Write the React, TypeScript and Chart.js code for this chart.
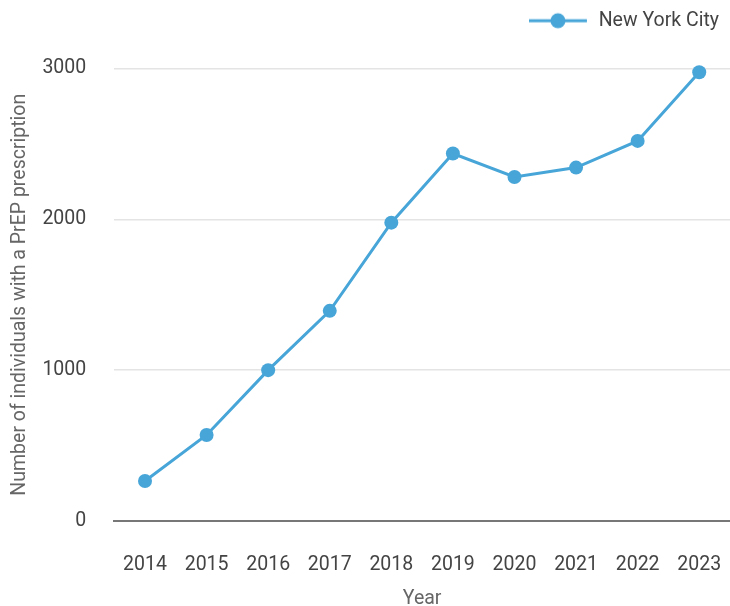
import React, { useEffect, useRef } from "react";
import { Chart, registerables } from "chart.js";

Chart.register(...registerables);

const years = ["2014", "2015", "2016", "2017", "2018", "2019", "2020", "2021", "2022", "2023"];
const nycValues = [265, 570, 1000, 1393, 1978, 2436, 2281, 2343, 2520, 2975];
const yTicks = [0, 1000, 2000, 3000];

const LINE_COLOR = "#47a5d8";
const FONT = "Roboto";
const FSIZE = 19.5;
const CLEAR = "rgba(0,0,0,0)";

function makeLegendIcon(): HTMLCanvasElement {
  const c = document.createElement("canvas");
  c.width = 60;
  c.height = 18;
  const ctx = c.getContext("2d")!;
  ctx.strokeStyle = LINE_COLOR;
  ctx.lineWidth = 3;
  ctx.beginPath();
  ctx.moveTo(0, 9);
  ctx.lineTo(58, 9);
  ctx.stroke();
  ctx.fillStyle = LINE_COLOR;
  ctx.beginPath();
  ctx.arc(29, 9, 7.5, 0, Math.PI * 2);
  ctx.fill();
  return c;
}

const legendSpacer = {
  id: "legendSpacer",
  beforeInit(chart: any) {
    const legend = chart.legend;
    if (!legend) return;
    const origFit = legend.fit;
    legend.fit = function () {
      origFit.call(this);
      this.height += 28;
    };
  },
};

export default function App() {
  const ref = useRef<HTMLCanvasElement | null>(null);

  useEffect(() => {
    if (!ref.current) return;
    const icon = makeLegendIcon();
    const chart = new Chart(ref.current, {
      type: "line",
      data: {
        labels: years,
        datasets: [
          {
            label: "New York City",
            data: nycValues,
            borderColor: LINE_COLOR,
            backgroundColor: LINE_COLOR,
            borderWidth: 3,
            pointRadius: 7,
            pointHoverRadius: 8,
            pointBackgroundColor: LINE_COLOR,
            pointBorderWidth: 0,
            tension: 0,
            clip: false as any,
          },
        ],
      },
      options: {
        animation: false,
        responsive: true,
        maintainAspectRatio: false,
        layout: { autoPadding: false, padding: 0 },
        plugins: {
          legend: {
            position: "top",
            align: "end",
            labels: {
              usePointStyle: true,
              pointStyleWidth: 60,
              boxHeight: 18,
              color: "#444",
              font: { family: FONT, size: FSIZE },
              padding: 11,
              generateLabels: (ch: any) =>
                ch.data.datasets.map((ds: any, i: number) => ({
                  text: ds.label,
                  pointStyle: icon,
                  fillStyle: LINE_COLOR,
                  strokeStyle: LINE_COLOR,
                  lineWidth: 0,
                  hidden: false,
                  datasetIndex: i,
                  fontColor: "#444",
                })),
            },
          },
          tooltip: { enabled: false },
        },
        scales: {
          x: {
            type: "category",
            offset: true,
            grid: {
              display: true,
              drawOnChartArea: false,
              drawTicks: true,
              tickLength: 32,
              tickColor: CLEAR,
              offset: false,
            },
            border: { display: true, color: "#777", width: 2 },
            ticks: {
              color: "#444",
              font: { family: FONT, size: FSIZE },
              padding: 0,
              maxRotation: 0,
            },
            title: {
              display: true,
              text: "Year",
              color: "#666",
              font: { family: FONT, size: FSIZE, lineHeight: 0.72 },
              padding: { top: 15.6, bottom: 0 },
            },
          },
          y: {
            min: 0,
            max: 3000,
            afterBuildTicks: (axis: any) => {
              axis.ticks = yTicks.map((v) => ({ value: v }));
            },
            grid: {
              color: "#e4e4e4",
              lineWidth: 1.5,
              drawTicks: true,
              tickLength: 28,
              tickColor: CLEAR,
            },
            border: { display: false },
            ticks: {
              color: "#444",
              font: { family: FONT, size: FSIZE },
              padding: 0,
              callback: (v: any) => String(v),
            },
            title: {
              display: true,
              text: "Number of individuals with a PrEP prescription",
              color: "#666",
              font: { family: FONT, size: FSIZE },
              padding: { top: 8, bottom: 11 },
            },
          },
        },
      },
      plugins: [legendSpacer],
    });
    return () => chart.destroy();
  }, []);

  return (
    <div style={{ position: "fixed", left: 0, top: 0, width: 730, height: 606, background: "#fff" }}>
      <canvas ref={ref} />
    </div>
  );
}
